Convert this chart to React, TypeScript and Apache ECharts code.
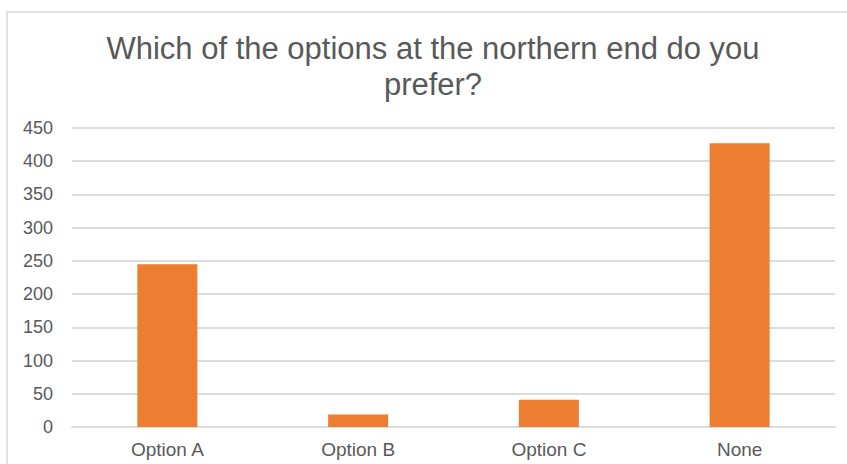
import React, { useEffect, useRef } from "react";
import * as echarts from "echarts";

const titleLines = ["Which of the options at the northern end do you", "prefer?"];
const categories = ["Option A", "Option B", "Option C", "None"];
const values = [245, 19, 41, 427];
const yTicks = { min: 0, max: 450, interval: 50 };

export default function App() {
  const ref = useRef<HTMLDivElement>(null);
  useEffect(() => {
    document.body.style.margin = "0";
    const chart = echarts.init(ref.current!, null, { renderer: "svg" });
    const font = "'Liberation Sans', Arial, sans-serif";
    chart.setOption({
      animation: false,
      backgroundColor: "#ffffff",
      graphic: [
        {
          type: "rect",
          shape: { x: 7, y: 12, width: 900, height: 500 },
          style: { fill: "none", stroke: "#d9d9d9", lineWidth: 1.5 },
          silent: true,
        },
        {
          type: "text",
          x: 433,
          y: 30,
          style: {
            text: titleLines.join("\n"),
            fontFamily: font,
            fontSize: 31,
            lineHeight: 36,
            fill: "#595959",
            align: "center",
            verticalAlign: "top",
          },
        },
      ],
      grid: { left: 72, right: 12, top: 128, bottom: 37, containLabel: false, outerBoundsMode: "none" },
      xAxis: {
        type: "category",
        data: categories,
        axisLine: { show: true, lineStyle: { color: "#dcdcdc", width: 2 } },
        axisTick: { show: false },
        axisLabel: { color: "#595959", fontSize: 19, fontFamily: font, margin: 13 },
      },
      yAxis: {
        type: "value",
        min: yTicks.min,
        max: yTicks.max,
        interval: yTicks.interval,
        axisLine: { show: false },
        axisTick: { show: false },
        splitLine: { lineStyle: { color: "#dcdcdc", width: 2 } },
        axisLabel: { color: "#595959", fontSize: 18, fontFamily: font, margin: 19 },
      },
      series: [
        {
          type: "bar",
          data: values,
          barWidth: 60,
          itemStyle: { color: "#ed7d31" },
        },
      ],
    });
    return () => chart.dispose();
  }, []);
  return <div ref={ref} style={{ width: 847, height: 464 }} />;
}
